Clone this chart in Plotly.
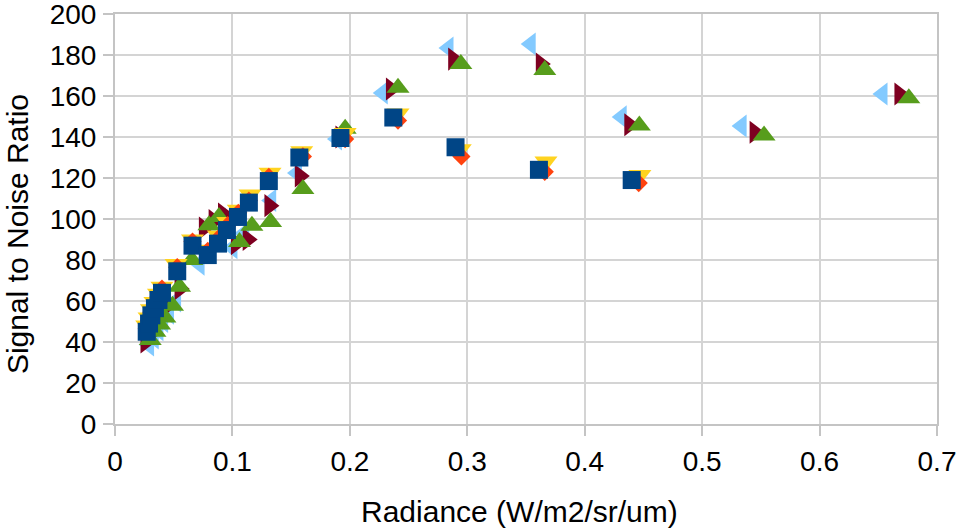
import plotly.graph_objects as go

# Series A family (squares / diamonds / down-triangles)
sq_x = [0.027, 0.029, 0.031, 0.034, 0.037, 0.040, 0.053, 0.066, 0.079, 0.0877, 0.0953, 0.1047, 0.114, 0.131, 0.157, 0.192, 0.237, 0.290, 0.361, 0.440]
sq_y = [45, 49, 53, 56.5, 60.5, 64, 74.5, 87, 82.4, 88, 94.6, 101, 108, 118.5, 130, 139.5, 149.5, 135, 124, 119]

dia_x = [0.027, 0.029, 0.031, 0.034, 0.037, 0.040, 0.053, 0.066, 0.079, 0.088, 0.096, 0.105, 0.114, 0.131, 0.160, 0.196, 0.241, 0.295, 0.366, 0.446]
dia_y = [46.5, 50.5, 54.5, 58, 62, 66, 76.5, 89, 84.5, 90.5, 97, 103, 109, 120.5, 130.5, 139, 148, 130.5, 123, 117.5]

dn_x = [0.027, 0.029, 0.031, 0.034, 0.037, 0.040, 0.052, 0.066, 0.078, 0.088, 0.096, 0.105, 0.115, 0.132, 0.159, 0.196, 0.241, 0.294, 0.367, 0.447]
dn_y = [48, 52, 56, 59.5, 63.5, 67, 78, 90, 85, 92, 98.5, 104.5, 112, 122.5, 133, 142, 151.5, 134, 128, 121.5]

# Series B family (up / right / left triangles)
up_x = [0.030, 0.034, 0.038, 0.0425, 0.049, 0.055, 0.0655, 0.080, 0.0885, 0.106, 0.1166, 0.1325, 0.160, 0.196, 0.241, 0.2945, 0.366, 0.4465, 0.5527, 0.676]
up_y = [41, 45, 48.5, 52, 57.7, 67, 80, 97, 101, 88.8, 96.7, 98.5, 114.6, 144, 164, 175.6, 172.7, 145.6, 140.7, 158.9]

right_x = [0.026, 0.030, 0.034, 0.039, 0.045, 0.055, 0.0757, 0.084, 0.092, 0.103, 0.113, 0.1315, 0.1574, 0.192, 0.235, 0.288, 0.3626, 0.438, 0.5447, 0.668]
right_y = [40, 44, 48, 52, 58, 66, 95.6, 99.2, 102.4, 88, 90, 106.5, 121, 140, 163.4, 178, 175.6, 146, 142.3, 161]

left_x = [0.029, 0.033, 0.037, 0.041, 0.046, 0.052, 0.072, 0.082, 0.090, 0.100, 0.110, 0.133, 0.155, 0.189, 0.228, 0.284, 0.354, 0.4315, 0.5336, 0.6536]
left_y = [38.5, 42, 46, 50, 54, 60, 78, 97, 100, 86, 93, 109, 122.4, 139, 161.5, 183.4, 185.4, 149.8, 145.4, 161]

x_ticks = [0, 0.1, 0.2, 0.3, 0.4, 0.5, 0.6, 0.7]
x_tick_text = ["0", "0.1", "0.2", "0.3", "0.4", "0.5", "0.6", "0.7"]
y_ticks = [0, 20, 40, 60, 80, 100, 120, 140, 160, 180, 200]

x_title = "Radiance (W/m2/sr/um)"
y_title = "Signal to Noise Ratio"

series = [
    (left_x, left_y, "triangle-left", "#83caff", 20),
    (right_x, right_y, "triangle-right", "#7e0021", 20),
    (up_x, up_y, "triangle-up", "#579d1c", 20),
    (dn_x, dn_y, "triangle-down", "#ffd320", 20),
    (dia_x, dia_y, "diamond", "#ff420e", 14),
    (sq_x, sq_y, "square", "#004586", 18),
]

fig = go.Figure()
for xs, ys, sym, col, sz in series:
    fig.add_trace(go.Scatter(x=xs, y=ys, mode="markers",
                             marker=dict(symbol=sym, color=col, size=sz, line=dict(width=0)),
                             showlegend=False))

font_family = "Liberation Sans, Arial, sans-serif"
fig.update_layout(
    width=958, height=530,
    margin=dict(l=115, r=21, t=14, b=106),
    paper_bgcolor="white", plot_bgcolor="white",
    font=dict(family=font_family, color="#000000"),
    xaxis=dict(range=[0, 0.7], tickvals=x_ticks, ticktext=x_tick_text,
               automargin=False, ticklabeloverflow="allow", ticklabelstandoff=1,
               showgrid=True, gridcolor="#d4d4d4", gridwidth=2,
               showline=True, linecolor="#c4c4c4", linewidth=2, mirror=True,
               ticks="outside", ticklen=10, tickwidth=2, tickcolor="#c4c4c4",
               tickfont=dict(size=28), zeroline=False),
    yaxis=dict(range=[0, 200], tickvals=y_ticks,
               automargin=False, ticklabeloverflow="allow", ticklabelstandoff=1,
               showgrid=True, gridcolor="#d4d4d4", gridwidth=2,
               showline=True, linecolor="#c4c4c4", linewidth=2, mirror=True,
               ticks="outside", ticklen=10, tickwidth=2, tickcolor="#c4c4c4",
               tickfont=dict(size=28), zeroline=False),
    annotations=[
        dict(text=x_title, xref="paper", yref="paper", x=0.4924, y=-0.2146,
             xanchor="center", yanchor="middle", showarrow=False,
             font=dict(size=30, color="#000000")),
        dict(text=y_title, xref="paper", yref="paper", x=-0.1191, y=0.4634,
             xanchor="center", yanchor="middle", showarrow=False, textangle=-90,
             font=dict(size=30, color="#000000")),
    ],
)

fig.write_html("out.html", config={"displayModeBar": False},
               post_script="document.body.style.margin='0';")
